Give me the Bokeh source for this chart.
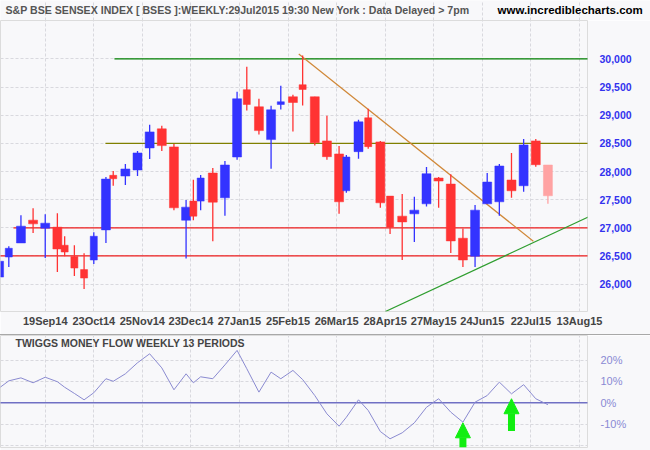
from bokeh.plotting import figure
from bokeh.layouts import column
from bokeh.models import (Range1d, FixedTicker, NumeralTickFormatter, Label, Arrow,
                          NormalHead, Div, ColumnDataSource)
from bokeh.embed import file_html
from bokeh.resources import INLINE

# ---------------- data ----------------
# x position of each weekly bar, counted in trading days
bar_day = [0, 4, 9, 14, 19, 24, 27, 31, 35, 39, 44, 47, 52, 57, 62, 67, 72, 77, 80, 83,
           88, 93, 98, 102, 107, 112, 116, 121, 125, 130, 135, 140, 143, 148, 152, 157, 161, 166, 171, 176,
           181, 186, 191, 196, 201, 206, 211, 216, 221, 226]
open_ = [26125, 26481, 26731, 27136, 26993, 27011, 26690, 26488, 26257, 26428,
         26963, 27932, 27920, 28027, 28419, 28758, 28437, 27135, 27474, 27474,
         27973, 27533, 28258, 29453, 29150, 28567, 29191, 29328, 29542, 29328,
         28544, 28312, 27658, 28353, 28954, 28526, 27563, 27207, 27248, 27426,
         27884, 27777, 26815, 26494, 27426, 27462, 27849, 27747, 28544, 28116]
high = [26430, 26672, 27225, 27349, 27242, 27260, 26850, 26690, 26547, 26922,
        27902, 28009, 28134, 28365, 28829, 28811, 28490, 27492, 27854, 27938,
        28062, 28187, 29417, 29863, 29292, 29168, 29524, 29364, 30059, 29328,
        28989, 28455, 28294, 28918, 29114, 28544, 27563, 27599, 27551, 28080,
        27902, 27950, 26988, 27403, 27973, 28134, 28330, 28579, 28579, 28116]
low = [26080, 26303, 26731, 26909, 26464, 26214, 26494, 26143, 25911, 26357,
       26731, 27747, 27759, 27920, 28223, 28365, 27314, 26455, 27135, 27314,
       26761, 27212, 28210, 29084, 28656, 28050, 29102, 28709, 29173, 28460,
       28210, 27248, 27622, 28228, 28406, 27355, 26891, 26428, 26749, 27380,
       27355, 26553, 26303, 26303, 27426, 27212, 27533, 27640, 28086, 27426]
close = [26405, 26636, 27029, 27070, 27082, 26624, 26570, 26285, 26107, 26850,
         27866, 27872, 28045, 28330, 28704, 28460, 27355, 27367, 27207, 27884,
         27456, 28116, 29292, 29191, 28727, 29096, 29239, 29226, 29458, 28513,
         28264, 27462, 28258, 28882, 28442, 27444, 27016, 27105, 27314, 27961,
         27831, 26767, 26428, 27314, 27813, 28098, 27658, 28472, 28121, 27569]

# Twiggs Money Flow (13 periods), percent
money_flow = [6.9, 10.3, 11.7, 9.4, 12.0, 9.9, 7.3, 4.4, 1.4, 4.7,
              11.3, 10.1, 13.6, 18.8, 23.0, 16.4, 6.1, 13.6, 9.4, 12.2,
              11.3, 17.8, 24.6, 16.0, 5.0, 14.4, 11.3, 15.2, 10.9, 3.4,
              -5.2, -11.0, -6.8, 1.4, -3.6, -13.5, -16.9, -14.1, -9.4, -2.1,
              1.9, -4.4, -9.1, 0.3, 3.4, 9.7, 4.2, 8.5, 1.9, -0.9]

tick_day = [19, 39, 59, 79, 99, 119, 139, 159, 179, 199, 219, 239]
tick_label = ["19Sep14", "23Oct14", "25Nov14", "23Dec14", "27Jan15", "25Feb15",
              "26Mar15", "28Apr15", "27May15", "24Jun15", "22Jul15", "13Aug15"]

price_ticks = [26000, 26500, 27000, 27500, 28000, 28500, 29000, 29500, 30000]
mf_ticks = [-20, -10, 0, 10, 20]
mf_tick_label = {-20: "", -10: "-10%", 0: "0%", 10: "10%", 20: "20%"}

# horizontal support / resistance levels (start day, price)
level_price = [30000, 28500, 27000, 26500]
level_start = [47.5, 43.8, 5.9, 0]
level_color = ["#008000", "#808000", "#ee1c1c", "#ee1c1c"]

# trend lines
down_trend_day = [123.4, 220.0]
down_trend_price = [30089, 26761]
up_trend_day = [159.1, 245.0]
up_trend_price = [25513, 27240]

# signal arrows on money flow
arrow_day = [191, 211]
arrow_base = [-21.0, -13.3]
arrow_tip = [-9.4, 1.9]

title_text = "S&P BSE SENSEX INDEX [ BSES ]:WEEKLY:29Jul2015 19:30 New York : Data Delayed > 7pm"
site_text = "www.incrediblecharts.com"
mf_title = "TWIGGS MONEY FLOW WEEKLY 13 PERIODS"

# ---------------- styling ----------------
BG = "#f8f8fa"
GRID = "#d9d9de"
UP = "#3333ff"
DOWN = "#ff3333"
PENDING = "#ffa3a3"
FRAME_W = 587

gaps = [5] + [b - a for a, b in zip(bar_day[:-1], bar_day[1:])]
widths = [3.7 if g >= 5 else 2.9 for g in gaps]
colors = [UP if c > o else DOWN for o, c in zip(open_, close)]
colors[-1] = PENDING
src = ColumnDataSource(dict(
    x=bar_day, top=[max(o, c) for o, c in zip(open_, close)],
    bottom=[min(o, c) for o, c in zip(open_, close)],
    high=high, low=low, w=widths, color=colors))

X0, X1 = 0.58, 242.3
x_range = Range1d(X0, X1)

# ---- title strip (full-width frame, same day scale) ----
head = figure(width=650, height=20, x_range=Range1d(X0, X0 + (X1 - X0) * 650 / FRAME_W),
              y_range=Range1d(0, 1), output_backend="svg", toolbar_location=None,
              min_border_left=0, min_border_right=0, min_border_top=0, min_border_bottom=0,
              background_fill_color=BG, border_fill_color=BG, outline_line_color=None)
head.frame_align = False
head.xaxis.visible = False
head.yaxis.visible = False
head.xgrid.ticker = FixedTicker(ticks=tick_day)
head.xgrid.grid_line_color = GRID
head.xgrid.grid_line_dash = "3 2"
head.ygrid.visible = False
head.add_layout(Label(x=5, y=11, x_units="screen", y_units="screen", text=title_text,
                      text_font="Liberation Sans", text_font_style="bold", text_font_size="10.6px",
                      text_color="#555555", text_baseline="middle"))
head.add_layout(Label(x=497, y=11, x_units="screen", y_units="screen", text=site_text,
                      text_font="Liberation Sans", text_font_style="bold", text_font_size="11.5px",
                      text_color="#000000", text_baseline="middle"))

# ---- price panel ----
top = figure(width=650, height=314, x_range=x_range, y_range=Range1d(25513, 30683),
             y_axis_location="right", output_backend="svg", toolbar_location=None,
             min_border_left=0, min_border_right=650 - FRAME_W, min_border_top=0, min_border_bottom=23,
             background_fill_color=BG, border_fill_color=BG, outline_line_color="#dcdcdc")

top.xaxis.ticker = FixedTicker(ticks=tick_day)
top.xaxis.major_label_overrides = {d: t for d, t in zip(tick_day, tick_label)}
top.xaxis.axis_line_color = None
top.xaxis.major_tick_line_color = None
top.xaxis.minor_tick_line_color = None
top.xaxis.major_tick_out = 0
top.xaxis.major_label_standoff = 3
top.xaxis.major_label_text_font = "Liberation Sans"
top.xaxis.major_label_text_font_style = "bold"
top.xaxis.major_label_text_font_size = "11px"
top.xaxis.major_label_text_color = "#444444"

top.yaxis.ticker = FixedTicker(ticks=price_ticks)
top.yaxis.formatter = NumeralTickFormatter(format="0,0")
top.yaxis.axis_line_color = None
top.yaxis.major_tick_line_color = None
top.yaxis.minor_tick_line_color = None
top.yaxis.major_label_standoff = 6
top.yaxis.major_label_text_font = "Liberation Sans"
top.yaxis.major_label_text_font_style = "bold"
top.yaxis.major_label_text_font_size = "10.5px"
top.yaxis.major_label_text_color = "#3333ee"

for g in (top.xgrid, top.ygrid):
    g.grid_line_color = GRID
    g.grid_line_dash = "3 2"

for lp, ls, lc in zip(level_price, level_start, level_color):
    top.ray(x=[ls], y=[lp], length=0, angle=0, line_color=lc, line_width=1.3)

top.line(down_trend_day, down_trend_price, line_color="#d08838", line_width=1.2)
top.line(up_trend_day, up_trend_price, line_color="#2f9e2f", line_width=1.2)

top.segment(x0="x", y0="high", x1="x", y1="low", source=src, line_color="color", line_width=1.3)
top.vbar(x="x", width="w", top="top", bottom="bottom", source=src,
         fill_color="color", line_color="color", line_width=0.5)

sep = Div(text="", width=650, height=1, margin=0, styles={"background-color": "#a8a8a8"})

# ---- money flow panel ----
bot = figure(width=650, height=115, x_range=x_range, y_range=Range1d(-21.0, 31.6),
             y_axis_location="right", output_backend="svg", toolbar_location=None,
             min_border_left=0, min_border_right=650 - FRAME_W, min_border_top=0, min_border_bottom=3,
             background_fill_color=BG, border_fill_color=BG, outline_line_color="#dcdcdc")
bot.xaxis.visible = False
bot.xgrid.ticker = FixedTicker(ticks=tick_day)
bot.yaxis.ticker = FixedTicker(ticks=mf_ticks)
bot.yaxis.major_label_overrides = mf_tick_label
bot.yaxis.axis_line_color = None
bot.yaxis.major_tick_line_color = None
bot.yaxis.minor_tick_line_color = None
bot.yaxis.major_label_standoff = 7
bot.yaxis.major_label_text_font = "Liberation Sans"
bot.yaxis.major_label_text_font_size = "11px"
bot.yaxis.major_label_text_color = "#8a8ad4"
for g in (bot.xgrid, bot.ygrid):
    g.grid_line_color = GRID
    g.grid_line_dash = "3 2"

bot.ray(x=[0], y=[0], length=0, angle=0, line_color="#7070c4", line_width=1.4)
bot.line(bar_day, money_flow, line_color="#8a8ad0", line_width=1)

for ad, ab, at in zip(arrow_day, arrow_base, arrow_tip):
    bot.add_layout(Arrow(end=NormalHead(size=15, fill_color="#11ee11", line_color="#11ee11"),
                         x_start=ad, y_start=ab, x_end=ad, y_end=at,
                         line_color="#11ee11", line_width=7))

bot.add_layout(Label(x=15, y=105, x_units="screen", y_units="screen", text=mf_title,
                     text_font="Liberation Sans", text_font_style="bold", text_font_size="10.5px",
                     text_color="#444444", text_baseline="middle"))

layout = column(head, top, sep, bot, spacing=0)
open("out.html", "w").write(file_html(layout, INLINE))
